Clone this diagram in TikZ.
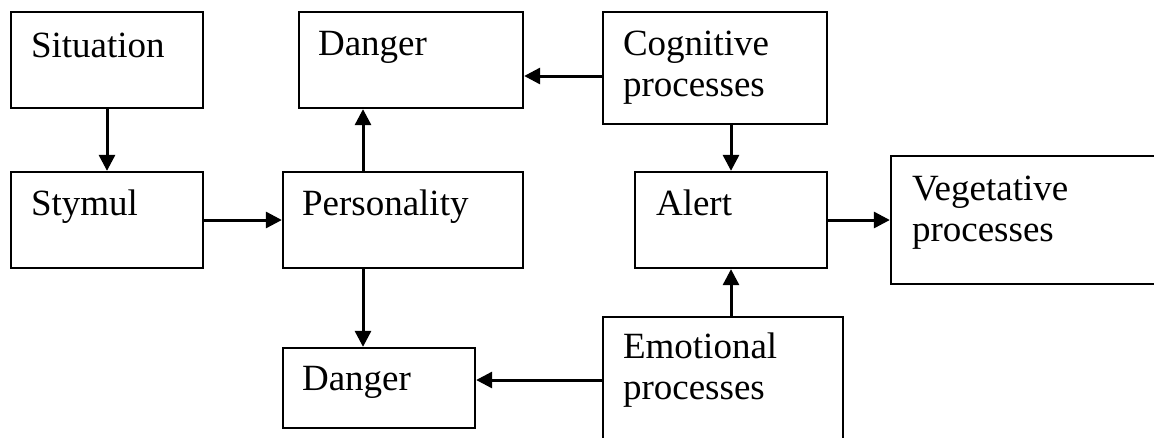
\documentclass[tikz,border=0pt]{standalone}
\usepackage{fontspec}
\setmainfont{Liberation Serif}
\usetikzlibrary{positioning,arrows.meta,calc}

\tikzset{
  box/.style={draw=black, line width=2.3pt, inner sep=0pt},
  lbl/.style={anchor=base west, align=left, inner sep=0pt,
    font=\fontsize{37}{41}\selectfont},
  link/.style={line width=3pt, -{Triangle[length=16pt,width=16pt]}}
}

\begin{document}
\begin{tikzpicture}[x=1pt,y=-1pt]
\useasboundingbox (0,0) rectangle (1154,437);
% boxes
\node[box, minimum width=192, minimum height=96] (situation) at (107,60) {};
\node[box, minimum width=192, minimum height=96] (stymul) at (107,220) {};
\node[box, minimum width=224, minimum height=96] (dangerA) at (411,60) {};
\node[box, minimum width=240, minimum height=96] (person) at (403,220) {};
\node[box, minimum width=224, minimum height=112] (cognit) at (715,68) {};
\node[box, minimum width=192, minimum height=96] (alert) at (731,220) {};
\node[box, minimum width=280, minimum height=128] (veget) at (1031,220) {};
\node[box, minimum width=192, minimum height=80] (dangerB) at (379,388) {};
\node[box, minimum width=240, minimum height=160] (emotion) at (723,397) {};
% texts (base of the last line for two-line texts)
\node[lbl] (tsit) at ([xshift=21pt,yshift=-47pt]situation.north west) {Situation};
\node[lbl] (tsty) at ([xshift=21pt,yshift=-45pt]stymul.north west) {Stymul};
\node[lbl] (tdanA) at ([xshift=20pt,yshift=-45pt]dangerA.north west) {Danger};
\node[lbl] (tper) at ([xshift=20pt,yshift=-45pt]person.north west) {Personality};
\node[lbl] (tcog) at ([xshift=21pt,yshift=-86pt]cognit.north west) {Cognitive\\processes};
\node[lbl] (tal) at ([xshift=22pt,yshift=-45pt]alert.north west) {Alert};
\node[lbl] (tveg) at ([xshift=22pt,yshift=-87pt]veget.north west) {Vegetative\\processes};
\node[lbl] (tdanB) at ([xshift=20pt,yshift=-44pt]dangerB.north west) {Danger};
\node[lbl] (temo) at ([xshift=21pt,yshift=-84pt]emotion.north west) {Emotional\\processes};
% arrows
\draw[link] (situation) -- (stymul);
\draw[link] (stymul) -- (person);
\draw[link] ([xshift=-40pt]person.north) -- ([xshift=-40pt]person.north |- dangerA.south);
\draw[link] ([xshift=-40pt]person.south) -- ([xshift=-40pt]person.south |- dangerB.north);
\draw[link] ([yshift=-8pt]cognit.west) -- ([yshift=-8pt]cognit.west -| dangerA.east);
\draw[link] (cognit.south -| alert) -- (alert);
\draw[link] (emotion.north -| alert) -- (alert);
\draw[link] (alert) -- (veget);
\draw[link] (emotion.west |- 0,380) -- (dangerB.east |- 0,380);
\end{tikzpicture}
\end{document}
